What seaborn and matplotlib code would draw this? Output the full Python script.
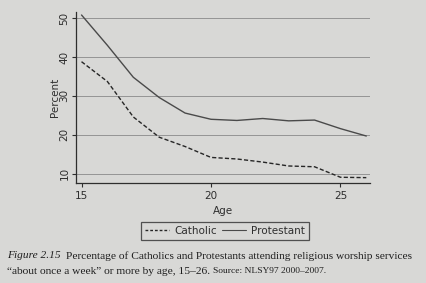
import pandas as pd
import numpy as np
import matplotlib
matplotlib.use('Agg')
import matplotlib.pyplot as plt
import seaborn as sns
from matplotlib.lines import Line2D

# values (percent attending weekly or more)
ages = [15, 16, 17, 18, 19, 20, 21, 22, 23, 24, 25, 26]
catholic = [38.8, 33.7, 24.6, 19.4, 17.0, 14.2, 13.8, 13.0, 12.0, 11.8, 9.1, 9.0]
protestant = [50.8, 43.0, 34.8, 29.6, 25.6, 24.0, 23.7, 24.2, 23.6, 23.8, 21.6, 19.7]
series_names = ['Catholic', 'Protestant']
y_ticks = [10, 20, 30, 40, 50]
x_ticks = [15, 20, 25]

paper = '#d8d8d6'
ink = '#2e2e2e'

df = pd.DataFrame({
    'Age': ages * 2,
    'Percent': catholic + protestant,
    'Religion': [series_names[0]] * len(ages) + [series_names[1]] * len(ages),
})

sns.set_style('white')
plt.rcParams['font.family'] = ['DejaVu Sans']

fig = plt.figure(figsize=(4.26, 2.83), dpi=100)
fig.patch.set_facecolor(paper)
ax = fig.add_axes([0.178, 0.353, 0.691, 0.605])
ax.set_facecolor(paper)

sns.lineplot(data=df, x='Age', y='Percent', hue='Religion', style='Religion',
             palette={'Catholic': '#262626', 'Protestant': '#4a4a4a'},
             dashes={'Catholic': (3, 1.6), 'Protestant': ''},
             linewidth=1.0, ax=ax, legend=False)

ax.set_xlim(14.78, 26.15)
ax.set_ylim(7.6, 51.6)
ax.set_xticks(x_ticks)
ax.set_yticks(y_ticks)
for y in y_ticks:
    ax.axhline(y, color='#8a8a8a', linewidth=0.6, zorder=0)

for side in ['top', 'right']:
    ax.spines[side].set_visible(False)
for side in ['left', 'bottom']:
    ax.spines[side].set_color(ink)
    ax.spines[side].set_linewidth(0.9)

ax.tick_params(axis='both', direction='out', length=3, width=0.8, color=ink,
               labelcolor=ink, labelsize=7.5, pad=1.5)
ax.tick_params(axis='y', left=True, labelrotation=90)
ax.tick_params(axis='x', bottom=True, pad=3)
for lab in ax.get_yticklabels():
    lab.set_verticalalignment('center')

ax.set_xlabel('Age', fontsize=7.5, color=ink, labelpad=3.5)
ax.set_ylabel('Percent', fontsize=7.5, color=ink, labelpad=0)

# legend below the axes, two columns, boxed
handles = [Line2D([], [], color='#262626', lw=1.0, dashes=(2, 1.4)),
           Line2D([], [], color='#4a4a4a', lw=0.8)]
leg = fig.legend(handles, series_names, loc='center', ncol=2,
                 bbox_to_anchor=(0.528, 1 - 231 / 283), fontsize=7.5,
                 frameon=True, fancybox=False, handlelength=2.3,
                 handletextpad=0.5, columnspacing=0.5, borderpad=0.35,
                 borderaxespad=0)
leg.get_frame().set_edgecolor(ink)
leg.get_frame().set_linewidth(0.9)
leg.get_frame().set_facecolor(paper)
for t in leg.get_texts():
    t.set_color(ink)

# caption in serif, italic figure number
cap_font = ['Liberation Serif', 'DejaVu Serif']
fig.canvas.draw()
r = fig.canvas.get_renderer()
x0 = 7 / 426
y1 = 1 - 256 / 283
y2 = 1 - 271 / 283
t1 = fig.text(x0, y1, 'Figure 2.15', fontstyle='italic', family=cap_font,
              fontsize=8.2, color='#1e1e1e', va='center')
w1 = t1.get_window_extent(r).width / fig.bbox.width
fig.text(x0 + w1 + 0.012, y1,
         'Percentage of Catholics and Protestants attending religious worship services',
         family=cap_font, fontsize=8.2, color='#1e1e1e', va='center')
t3 = fig.text(x0, y2, '\u201cabout once a week\u201d or more by age, 15\u201326.',
              family=cap_font, fontsize=8.2, color='#1e1e1e', va='center')
w3 = t3.get_window_extent(r).width / fig.bbox.width
fig.text(x0 + w3 + 0.006, y2, 'Source: NLSY97 2000\u20132007.',
         family=cap_font, fontsize=6.8, color='#1e1e1e', va='center')

fig.savefig('out.png', dpi=100, facecolor=paper)
